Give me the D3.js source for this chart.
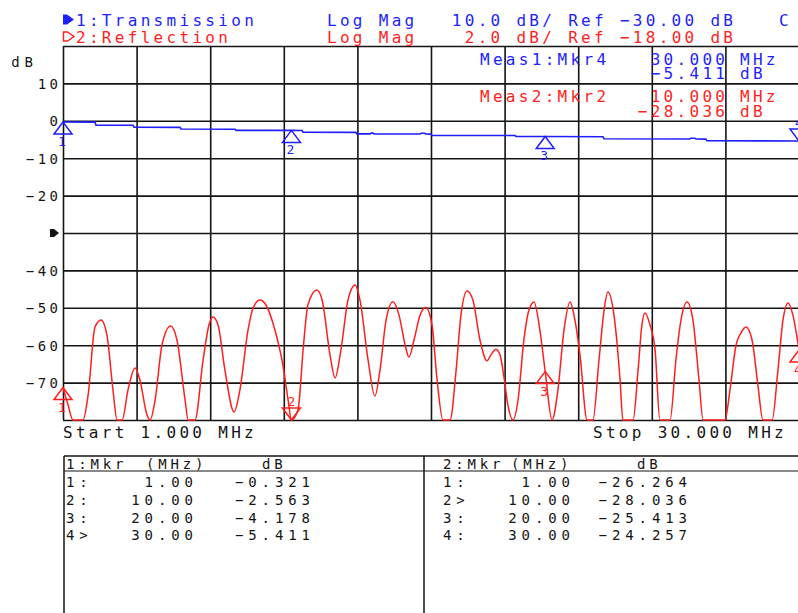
<!DOCTYPE html>
<html>
<head>
<meta charset="utf-8">
<script src="https://cdn.jsdelivr.net/npm/d3@7"></script>
<style>
body { margin: 0; background: #fff; }
text { font-family: "DejaVu Sans Mono", monospace; }
</style>
</head>
<body>
<div class="canvas"></div>
<script>
// sweep and channel settings (as shown on the analyzer header)
const startMHz = 1
const stopMHz = 30
const ch1Name = "Transmission"
const ch2Name = "Reflection"
const ch1Ref = -30, ch1Scale = 10
const ch2Ref = -18, ch2Scale = 2

const yTickLabels = [10, 0, -10, -20, -40, -50, -60, -70]

// channel 1 (blue, transmission)
const ch1Freq = [1.00, 2.26, 2.30, 3.76, 3.80, 5.61, 5.65, 7.78, 7.82, 10.00, 10.42, 10.46, 12.54, 12.58,
    13.10, 13.14, 13.22, 13.26, 15.07, 15.11, 15.25, 15.29, 15.50, 15.54, 18.81, 18.85, 20.00, 22.28,
    22.32, 25.70, 25.74, 25.90, 25.94, 26.33, 26.37, 30.00]
const ch1Db = [-0.32, -0.35, -1.15, -1.20, -1.70, -1.75, -2.20, -2.25, -2.56, -2.56, -2.60, -3.05, -3.10, -3.50,
    -3.50, -3.30, -3.30, -3.50, -3.52, -3.32, -3.32, -3.52, -3.55, -3.90, -3.95, -4.18, -4.18, -4.25,
    -4.80, -4.85, -4.65, -4.65, -4.88, -4.90, -5.30, -5.41]

// channel 2 (red, reflection)
const ch2Freq = [1.00, 1.20, 1.39, 1.79, 1.99, 2.26, 2.50, 2.73, 2.97, 3.13, 3.33, 3.56, 3.84, 4.03, 4.31, 4.43,
    4.63, 4.90, 5.24, 5.49, 5.81, 5.93, 6.20, 6.52, 6.75, 6.91, 7.11, 7.38, 7.74, 7.97, 8.29, 8.49, 8.76,
    9.00, 9.35, 9.67, 9.87, 10.00, 10.26, 10.46, 10.65, 11.00, 11.21, 11.52, 11.72, 11.95, 12.23, 12.51,
    12.70, 13.02, 13.29, 13.49, 13.73, 14.00, 14.24, 14.48, 14.63, 14.83, 15.07, 15.29, 15.54, 15.74,
    15.97, 16.25, 16.49, 16.68, 16.92, 17.15, 17.43, 17.71, 17.86, 18.06, 18.22, 18.38, 18.53, 18.73,
    18.93, 19.16, 19.36, 19.56, 19.79, 20.00, 20.27, 20.50, 20.74, 20.98, 21.17, 21.37, 21.65, 21.88,
    22.12, 22.32, 22.47, 22.71, 22.95, 23.06, 23.46, 23.66, 23.81, 23.93, 24.13, 24.33, 24.52, 24.92,
    25.15, 25.35, 25.59, 25.82, 26.06, 26.22, 27.08, 27.28, 27.52, 27.71, 27.91, 28.15, 28.38, 28.58,
    28.94, 29.17, 29.37, 29.57, 29.76, 30.00]
const ch2Db = [-26.26, -27.20, -28.00, -28.00, -26.66, -23.03, -22.65, -23.45, -26.40, -28.00, -28.00, -26.40,
    -25.22, -25.86, -27.73, -28.00, -26.93, -23.99, -22.97, -23.72, -26.93, -28.00, -28.00, -24.79,
    -22.92, -22.49, -22.92, -25.33, -27.57, -26.40, -23.19, -22.01, -21.58, -21.85, -23.19, -25.11,
    -26.93, -28.04, -27.47, -24.26, -21.85, -21.05, -21.58, -24.52, -25.75, -24.26, -21.58, -20.78,
    -21.58, -24.79, -26.72, -25.33, -22.65, -21.67, -22.39, -23.99, -24.63, -23.72, -22.39, -21.99,
    -22.92, -25.86, -28.00, -28.00, -25.33, -22.39, -21.10, -21.58, -23.72, -24.83, -24.52, -24.22,
    -24.52, -25.75, -27.20, -28.00, -26.93, -23.72, -22.12, -21.69, -23.19, -25.41, -28.05, -26.40,
    -23.19, -21.69, -22.65, -24.52, -28.00, -28.00, -24.79, -22.12, -21.16, -22.39, -25.86, -28.00,
    -28.00, -25.33, -22.92, -22.28, -22.92, -24.26, -28.00, -28.00, -24.79, -22.65, -21.69, -22.65,
    -25.86, -28.00, -28.00, -26.40, -23.99, -23.35, -23.03, -23.72, -26.13, -28.00, -28.00, -25.33,
    -22.65, -21.74, -22.39, -24.26]

// markers
const markerNames = ["1", "2", "3", "4"]
const markerFreq = [1, 10, 20, 30]
const ch1MarkerDb = [-0.321, -2.563, -4.178, -5.411]
const ch2MarkerDb = [-26.264, -28.036, -25.413, -24.257]
const ch1Active = 3
const ch2Active = 1

const blue = "#1e1eff"
const red = "#ff1e1e"
const ink = "#141414"

const width = 798
const height = 613
const plot = { left: 63, top: 46, right: 799, bottom: 420 }

const svg = d3.select(".canvas")
    .append("svg")
    .attr("width", width)
    .attr("height", height)

// fonts: wide pitched mono like the instrument's stroke font
const big = { size: 16, ls: 3.3 }
const small = { size: 14, ls: 4.9 }
const head = { size: 14, ls: 3.8 }
const tick = { size: 14, ls: 3.5 }

function minus(s) { return String(s).replace("-", "\u2212") }

function addText(x, y, str, color, f, anchor) {
    anchor = anchor || "start"
    return svg.append("text")
        .attr("x", anchor == "end" ? x + f.ls : x)
        .attr("y", y)
        .attr("fill", color)
        .attr("font-size", f.size)
        .attr("letter-spacing", f.ls)
        .attr("text-anchor", anchor)
        .text(str)
}

const x = d3.scaleLinear()
    .domain([startMHz, stopMHz])
    .range([plot.left, plot.right])

const yCh1 = d3.scaleLinear()
    .domain([ch1Ref + 5 * ch1Scale, ch1Ref - 5 * ch1Scale])
    .range([plot.top, plot.bottom])

const yCh2 = d3.scaleLinear()
    .domain([ch2Ref + 5 * ch2Scale, ch2Ref - 5 * ch2Scale])
    .range([plot.top, plot.bottom])
    .clamp(true)

// graticule, 10 x 10 divisions
const gridX = d3.axisBottom(x)
    .tickValues(d3.range(11).map(i => startMHz + i * (stopMHz - startMHz) / 10))
    .tickSize(-(plot.bottom - plot.top))
    .tickFormat("")
const gridY = d3.axisLeft(yCh1)
    .tickValues(d3.range(11).map(i => yCh1.domain()[1] + i * ch1Scale))
    .tickSize(-(plot.right - plot.left))
    .tickFormat("")

svg.append("g")
    .attr("transform", `translate(0, ${plot.bottom})`)
    .call(gridX)
svg.append("g")
    .attr("transform", `translate(${plot.left}, 0)`)
    .call(gridY)
svg.selectAll(".domain").remove()
svg.selectAll(".tick line")
    .attr("stroke", ink)
    .attr("stroke-width", 1.6)

// y tick labels (channel 1 scale)
const yLabels = d3.axisLeft(yCh1)
    .tickValues(yTickLabels)
    .tickSize(0)
    .tickPadding(0)
    .tickFormat(d => minus(d))
const yLabelGroup = svg.append("g")
    .attr("transform", `translate(${58 + tick.ls}, 0)`)
    .call(yLabels)
yLabelGroup.select(".domain").remove()
yLabelGroup.selectAll("text")
    .attr("font-size", tick.size)
    .attr("letter-spacing", tick.ls)
    .attr("font-family", "DejaVu Sans Mono")
    .attr("fill", ink)
    .attr("dy", "0.36em")

addText(33, 67, "dB", ink, small, "end")

// reference level pointer
svg.append("path")
    .attr("d", `M50,${yCh1(ch1Ref) - 4} L54,${yCh1(ch1Ref) - 4} L59,${yCh1(ch1Ref)} L54,${yCh1(ch1Ref) + 4} L50,${yCh1(ch1Ref) + 4} Z`)
    .attr("fill", ink)

// traces
const line1 = d3.line().x(d => x(d[0])).y(d => yCh1(d[1]))
const line2 = d3.line().x(d => x(d[0])).y(d => yCh2(d[1])).curve(d3.curveMonotoneX)

svg.append("path")
    .datum(d3.zip(ch2Freq, ch2Db))
    .attr("d", line2)
    .attr("fill", "none")
    .attr("stroke", red)
    .attr("stroke-width", 1.5)

svg.append("path")
    .datum(d3.zip(ch1Freq, ch1Db))
    .attr("d", line1)
    .attr("fill", "none")
    .attr("stroke", blue)
    .attr("stroke-width", 1.6)

// marker triangles
function drawMarker(f, db, yScale, name, active, color) {
    const mx = x(f)
    const my = yScale(db)
    const g = svg.append("g")
    if (active) {
        g.append("path")
            .attr("d", `M${mx},${my} L${mx - 9},${my - 12} L${mx + 9},${my - 12} Z`)
        g.append("text")
            .attr("x", mx).attr("y", my - 14)
            .text(name)
    } else {
        g.append("path")
            .attr("d", `M${mx},${my} L${mx - 9},${my + 12} L${mx + 9},${my + 12} Z`)
        g.append("text")
            .attr("x", mx - 1).attr("y", my + 24)
            .text(name)
    }
    g.select("path")
        .attr("fill", "none")
        .attr("stroke", color)
        .attr("stroke-width", 1.5)
    g.select("text")
        .attr("fill", color)
        .attr("font-size", 13)
        .attr("text-anchor", "middle")
}

markerNames.forEach((n, i) => {
    drawMarker(markerFreq[i], ch1MarkerDb[i], yCh1, n, i == ch1Active, blue)
    drawMarker(markerFreq[i], ch2MarkerDb[i], yCh2, n, i == ch2Active, red)
})

// header
svg.append("path")
    .attr("d", "M63,14.5 L67,14.5 L74,19.5 L67,24.5 L63,24.5 Z")
    .attr("fill", blue)
svg.append("path")
    .attr("d", "M63.5,32 L67.5,32 L74,36.5 L67.5,41 L63.5,41 Z")
    .attr("fill", "none")
    .attr("stroke", red)
    .attr("stroke-width", 1.4)

addText(76, 26, "1:" + ch1Name, blue, big)
addText(76, 43, "2:" + ch2Name, red, big)
addText(327, 26, "Log Mag", blue, big)
addText(327, 43, "Log Mag", red, big)
addText(733, 26, `${d3.format(".1f")(ch1Scale)} dB/ Ref ${minus(d3.format(".2f")(ch1Ref))} dB`, blue, big, "end")
addText(733, 43, `${d3.format(".1f")(ch2Scale)} dB/ Ref ${minus(d3.format(".2f")(ch2Ref))} dB`, red, big, "end")
addText(779, 26, "C", blue, big)

// active marker readouts
const f3 = d3.format(".3f")

addText(480, 65, `Meas1:Mkr${markerNames[ch1Active]}`, blue, big)
addText(725, 65, f3(markerFreq[ch1Active]), blue, big, "end")
addText(740, 65, "MHz", blue, big)
addText(725, 79, minus(f3(ch1MarkerDb[ch1Active])), blue, big, "end")
addText(740, 79, "dB", blue, big)

addText(480, 102, `Meas2:Mkr${markerNames[ch2Active]}`, red, big)
addText(725, 102, f3(markerFreq[ch2Active]), red, big, "end")
addText(740, 102, "MHz", red, big)
addText(725, 117, minus(f3(ch2MarkerDb[ch2Active])), red, big, "end")
addText(740, 117, "dB", red, big)

// start / stop
addText(63, 438, `Start ${f3(startMHz)} MHz`, ink, big)
addText(593, 438, `Stop ${f3(stopMHz)} MHz`, ink, big)

// marker table
const tableTop = 456
const tableHead = 471
svg.append("line").attr("x1", 64).attr("x2", width).attr("y1", tableTop).attr("y2", tableTop)
    .attr("stroke", ink).attr("stroke-width", 1.5)
svg.append("line").attr("x1", 64).attr("x2", width).attr("y1", tableHead).attr("y2", tableHead)
    .attr("stroke", ink).attr("stroke-width", 1.2)
svg.append("line").attr("x1", 64).attr("x2", 64).attr("y1", tableTop).attr("y2", height)
    .attr("stroke", ink).attr("stroke-width", 1.5)
svg.append("line").attr("x1", 424).attr("x2", 424).attr("y1", tableTop).attr("y2", height)
    .attr("stroke", ink).attr("stroke-width", 1.5)

const f2 = d3.format(".2f")
function table(left, ch, mhzX, dbX, values, active) {
    addText(left, 469, ch + ":Mkr", ink, head)
    addText(mhzX, 469, "(MHz)", ink, head)
    addText(dbX, 469, "dB", ink, head)
    markerNames.forEach((n, i) => {
        const yy = 487 + i * 17.8
        addText(left, yy, n + (i == active ? ">" : ":"), ink, small)
        addText(left + 127, yy, f2(markerFreq[i]), ink, small, "end")
        addText(left + 244, yy, minus(f3(values[i])), ink, small, "end")
    })
}
table(66, "1", 146, 262, ch1MarkerDb, ch1Active)
table(443, "2", 511, 637, ch2MarkerDb, ch2Active)
</script>
</body>
</html>
